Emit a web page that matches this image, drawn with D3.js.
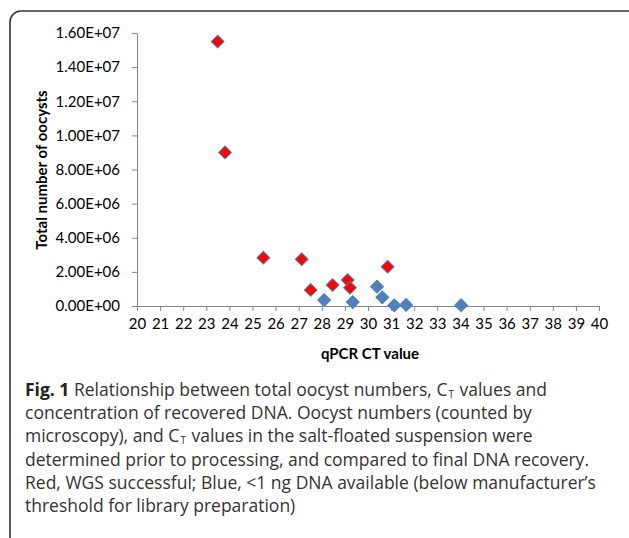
<!DOCTYPE html>
<html>
<head>
<meta charset="utf-8">
<script src="https://cdn.jsdelivr.net/npm/d3@7"></script>
<style>
  html, body { margin: 0; padding: 0; background: #fff; }
  svg { display: block; }
</style>
</head>
<body>
<svg id="chart" width="629" height="538"></svg>
<script>
// ---- data ----
const redCT     = [23.49, 23.81, 25.47, 27.13, 27.52, 28.47, 29.12, 29.22, 30.85];
const redCount  = [1.55e7, 9.0e6, 2.83e6, 2.74e6, 0.94e6, 1.23e6, 1.52e6, 1.07e6, 2.3e6];
const blueCT    = [28.10, 29.34, 30.39, 30.62, 31.14, 31.65, 34.03];
const blueCount = [0.35e6, 0.23e6, 1.13e6, 0.51e6, 0.04e6, 0.06e6, 0.05e6];
const xTicks = d3.range(20, 41, 1);
const yTicks = [0, 2e6, 4e6, 6e6, 8e6, 1e7, 1.2e7, 1.4e7, 1.6e7];
const xTitle = "qPCR CT value";
const yTitle = "Total number of oocysts";

const svg = d3.select("#chart");
const chartFont = "Lato, 'Open Sans', sans-serif";

// frame
svg.append("rect")
  .attr("x", 10).attr("y", 11).attr("width", 640).attr("height", 540)
  .attr("rx", 11).attr("ry", 11)
  .attr("fill", "none").attr("stroke", "#333").attr("stroke-width", 1.6);

const x = d3.scaleLinear().domain([20, 40]).range([137, 599]);
const y = d3.scaleLinear().domain([0, 1.6e7]).range([306, 33]);

function sci(v) {
  if (v === 0) return "0.00E+00";
  const e = Math.floor(Math.log10(v) + 1e-9);
  const m = v / Math.pow(10, e);
  return m.toFixed(2) + "E+" + String(e).padStart(2, "0");
}

const axisColor = "#868686";

const gx = svg.append("g").attr("transform", `translate(0,${y(0)})`)
  .call(d3.axisBottom(x).tickValues(xTicks).tickFormat(d3.format("d")).tickSize(5).tickPadding(7));
const gy = svg.append("g").attr("transform", `translate(${x(20)},0)`)
  .call(d3.axisLeft(y).tickValues(yTicks).tickFormat(sci).tickSize(5).tickPadding(12));

[gx, gy].forEach(g => {
  g.select(".domain").attr("stroke", axisColor).attr("stroke-width", 1);
  g.selectAll(".tick line").attr("stroke", axisColor);
  g.selectAll(".tick text").attr("fill", "#000").style("font-family", chartFont).style("font-size", "15px");
});

// titles
svg.append("text").attr("x", 370).attr("y", 359).attr("text-anchor", "middle")
  .style("font-family", chartFont).style("font-size", "15px").style("font-weight", "bold")
  .text(xTitle);
svg.append("text").attr("transform", "translate(47,170) rotate(-90)").attr("text-anchor", "middle")
  .style("font-family", chartFont).style("font-size", "15px").style("font-weight", "bold")
  .text(yTitle);

// markers
const diamond = d3.symbol().type(d3.symbolSquare).size(82);
const blue = blueCT.map((c, i) => ({ c, n: blueCount[i] }));
const red = redCT.map((c, i) => ({ c, n: redCount[i] }));

svg.append("g").selectAll("path").data(red).join("path")
  .attr("d", diamond)
  .attr("transform", d => `translate(${x(d.c)},${y(d.n)}) rotate(45)`)
  .attr("fill", "#ff0000").attr("stroke", "#4a7ebb").attr("stroke-width", 1);
svg.append("g").selectAll("path").data(blue).join("path")
  .attr("d", diamond)
  .attr("transform", d => `translate(${x(d.c)},${y(d.n)}) rotate(45)`)
  .attr("fill", "#4f81bd").attr("stroke", "#4a7ebb").attr("stroke-width", 1);

// caption
const capFont = "'Open Sans', 'Noto Sans', sans-serif";
const lines = [
  [["b", "Fig. 1"], ["t", " Relationship between total oocyst numbers, C"], ["s", "T"], ["t", " values and"]],
  [["t", "concentration of recovered DNA. Oocyst numbers (counted by"]],
  [["t", "microscopy), and C"], ["s", "T"], ["t", " values in the salt-floated suspension were"]],
  [["t", "determined prior to processing, and compared to final DNA recovery."]],
  [["t", "Red, WGS successful; Blue, <1 ng DNA available (below manufacturer\u2019s"]],
  [["t", "threshold for library preparation)"]]
];
lines.forEach((ln, i) => {
  const base = 396 + i * 23.2;
  const t = svg.append("text").attr("x", 25).attr("y", base)
    .style("font-family", capFont).style("font-size", "17.5px").attr("fill", "#333");
  let prevSub = false;
  ln.forEach(seg => {
    const ts = t.append("tspan");
    if (seg[0] === "b") ts.style("font-weight", "bold").attr("fill", "#222");
    if (seg[0] === "s") ts.style("font-size", "10px").attr("dx", 1).attr("baseline-shift", "-2px");
    if (prevSub) ts.attr("dx", 1);
    prevSub = seg[0] === "s";
    ts.text(seg[1]);
  });
});
</script>
</body>
</html>
